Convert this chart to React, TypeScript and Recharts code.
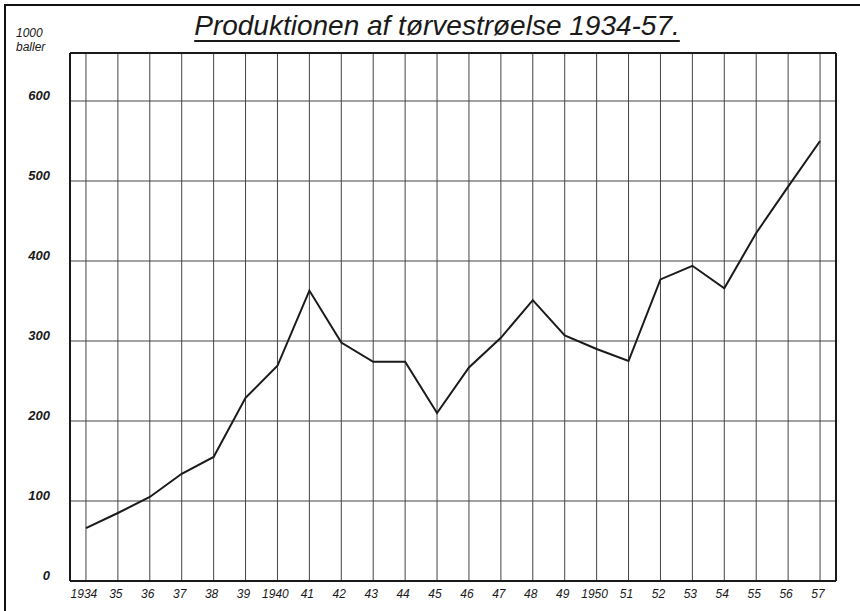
import React from "react";
import {
  LineChart,
  Line,
  XAxis,
  YAxis,
  CartesianGrid,
  ReferenceLine,
} from "recharts";

const years = [
  1934, 1935, 1936, 1937, 1938, 1939, 1940, 1941, 1942, 1943, 1944, 1945,
  1946, 1947, 1948, 1949, 1950, 1951, 1952, 1953, 1954, 1955, 1956, 1957,
];
const yearLabels = [
  "1934", "35", "36", "37", "38", "39", "1940", "41", "42", "43", "44", "45",
  "46", "47", "48", "49", "1950", "51", "52", "53", "54", "55", "56", "57",
];
// 1000 baller
const production = [
  66, 85, 105, 134, 155, 229, 269, 363, 298, 274, 274, 210,
  267, 304, 351, 307, 290, 275, 377, 394, 366, 435, 493, 550,
];
const yTicks = [0, 100, 200, 300, 400, 500, 600];

const data = years.map((year, i) => ({ year, value: production[i] }));

const ink = "#1a1a1a";
const font = "'Liberation Sans', 'DejaVu Sans', sans-serif";

function XTick({ x, y, payload }: any) {
  const i = years.indexOf(payload.value);
  return (
    <text
      x={x - 2}
      y={y + 9}
      textAnchor="middle"
      fontFamily={font}
      fontStyle="italic"
      fontSize={12}
      fill={ink}
    >
      {yearLabels[i]}
    </text>
  );
}

function YTick({ x, y, payload }: any) {
  return (
    <text
      x={x}
      y={y - 1}
      textAnchor="end"
      fontFamily={font}
      fontStyle="italic"
      fontWeight="bold"
      fontSize={13}
      fill={ink}
    >
      {payload.value}
    </text>
  );
}

export default function App() {
  return (
    <div
      style={{
        position: "absolute",
        top: 0,
        left: 0,
        width: 860,
        height: 611,
        background: "#fff",
        overflow: "hidden",
      }}
    >
      <div
        style={{
          position: "absolute",
          left: 4,
          top: 4,
          width: 860,
          height: 611,
          borderLeft: "2px solid #111",
          borderTop: "2px solid #111",
        }}
      />
      <div
        style={{
          position: "absolute",
          left: 0,
          width: 874,
          top: 10,
          textAlign: "center",
          fontFamily: font,
          fontStyle: "italic",
          fontSize: 28,
          color: ink,
          textDecoration: "underline",
          textUnderlineOffset: 5,
          textDecorationThickness: 1.5,
        }}
      >
        Produktionen af tørvestrøelse 1934-57.
      </div>
      <div
        style={{
          position: "absolute",
          left: 16,
          top: 26,
          fontFamily: font,
          fontStyle: "italic",
          fontSize: 12,
          lineHeight: "14px",
          color: ink,
        }}
      >
        1000
        <br />
        baller
      </div>
      <LineChart
        width={860}
        height={611}
        data={data}
        margin={{ top: 53, right: 24, bottom: 0, left: 10 }}
      >
        <CartesianGrid
          stroke="#444"
          strokeWidth={1}
          horizontalValues={yTicks}
          verticalValues={years}
        />
        <XAxis
          dataKey="year"
          type="number"
          domain={[1933.5, 1957.5]}
          ticks={years}
          interval={0}
          height={30}
          tickLine={false}
          axisLine={{ stroke: ink, strokeWidth: 2 }}
          tick={<XTick />}
        />
        <YAxis
          type="number"
          domain={[0, 660]}
          ticks={yTicks}
          width={60}
          tickLine={false}
          tickMargin={14}
          axisLine={{ stroke: ink, strokeWidth: 2 }}
          tick={<YTick />}
        />
        <ReferenceLine y={660} stroke={ink} strokeWidth={2} />
        <ReferenceLine x={1957.5} stroke={ink} strokeWidth={2} />
        <Line
          type="linear"
          dataKey="value"
          stroke={ink}
          strokeWidth={2}
          dot={false}
          isAnimationActive={false}
        />
      </LineChart>
    </div>
  );
}
